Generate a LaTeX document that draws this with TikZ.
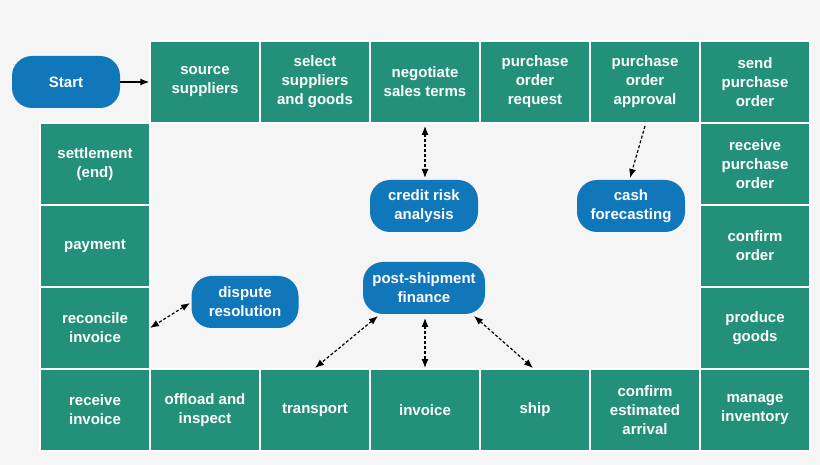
\documentclass[tikz,border=0pt]{standalone}
\usepackage{fontspec}
\setmainfont{Liberation Sans}
\usetikzlibrary{arrows.meta}
\definecolor{teal1}{HTML}{23917A}
\definecolor{blue1}{HTML}{1177BB}
\begin{document}
\begin{tikzpicture}[x=1pt,y=-1pt,
 box/.style={draw=white,line width=1.5pt,fill=teal1,text=white,minimum width=110pt,minimum height=82pt,align=center,font=\fontsize{15}{19}\selectfont\bfseries,inner sep=1pt},
 pill/.style={fill=blue1,text=white,rounded corners=20pt,align=center,font=\fontsize{15}{19}\selectfont\bfseries,inner sep=1pt},
 da/.style={densely dashed,line width=1.2pt,{Latex[length=9pt,width=7pt]}-{Latex[length=9pt,width=7pt]}},
 sa/.style={densely dashed,line width=1.2pt,-{Latex[length=9pt,width=7pt]}}]
\fill[white!96!black] (0,0) rectangle (820,465);
\useasboundingbox (0,0) rectangle (820,465);
% top row
\node[box] (t1) at (205,82) {source\\suppliers};
\node[box] (t2) at (315,82) {select\\suppliers\\and goods};
\node[box] (t3) at (425,82) {negotiate\\sales terms};
\node[box] (t4) at (535,82) {purchase\\order\\request};
\node[box] (t5) at (645,82) {purchase\\order\\approval};
\node[box] (t6) at (755,82) {send\\purchase\\order};
% right column
\node[box] (r1) at (755,164) {receive\\purchase\\order};
\node[box] (r2) at (755,246) {confirm\\order};
\node[box] (r3) at (755,328) {produce\\goods};
\node[box] (r4) at (755,410) {manage\\inventory};
% bottom row
\node[box] (b6) at (645,410) {confirm\\estimated\\arrival};
\node[box] (b5) at (535,410) {ship};
\node[box] (b4) at (425,410) {invoice};
\node[box] (b3) at (315,410) {transport};
\node[box] (b2) at (205,410) {offload and\\inspect};
% left column
\node[box] (l4) at (95,410) {receive\\invoice};
\node[box] (l3) at (95,328) {reconcile\\invoice};
\node[box] (l2) at (95,246) {payment};
\node[box] (l1) at (95,164) {settlement\\(end)};
% pills
\node[pill,minimum width=108pt,minimum height=52pt] (start) at (66,82) {Start};
\node[pill,minimum width=108pt,minimum height=52pt] (credit) at (424,206) {credit risk\\analysis};
\node[pill,minimum width=108pt,minimum height=52pt] (cash) at (631,206) {cash\\forecasting};
\node[pill,minimum width=107pt,minimum height=52pt] (disp) at (245,302) {dispute\\resolution};
\node[pill,minimum width=122pt,minimum height=52pt] (post) at (424,288) {post-shipment\\finance};
% arrows
\draw[line width=1.2pt,-{Latex[length=9pt,width=7pt]}] (start.east) -- (t1.west);
\draw[da] (425,126) -- (425,178);
\draw[sa] (645,126) -- (630,178);
\draw[da] (190,303) -- (150,328);
\draw[da] (378,316) -- (315,368);
\draw[da] (425,318) -- (425,368);
\draw[da] (474,316) -- (533,368);
\end{tikzpicture}
\end{document}
